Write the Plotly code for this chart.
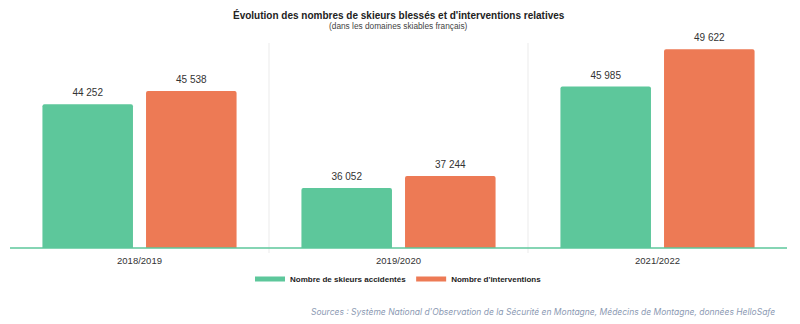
import plotly.graph_objects as go

seasons = ["2018/2019", "2019/2020", "2021/2022"]
skieurs = [44252, 36052, 45985]
interventions = [45538, 37244, 49622]
series_names = ["Nombre de skieurs accidentés", "Nombre d'interventions"]

GREEN = "#5dc79b"
ORANGE = "#ed7a55"

def fmt(v):
    return f"{v:,}".replace(",", " ")

PLOT_H = 205.5

fig = go.Figure()
series = [(series_names[0], skieurs, GREEN, "a"), (series_names[1], interventions, ORANGE, "b")]
for name, vals, col, grp in series:
    fig.add_trace(go.Bar(
        x=seasons, y=vals, name=name, showlegend=False, offsetgroup=grp,
        marker=dict(color=col, cornerradius=2, line=dict(width=0)),
        hoverinfo="skip",
    ))
for name, vals, col, grp in series:
    fig.add_trace(go.Scatter(
        x=seasons, y=vals, mode="markers+text", offsetgroup=grp, showlegend=False,
        text=[fmt(v) for v in vals], textposition="top center",
        marker=dict(size=7, color="rgba(0,0,0,0)"),
        textfont=dict(size=10, color="#333333", family="Liberation Sans, Arial"),
        cliponaxis=False, hoverinfo="skip",
    ))
# legend entries (wide swatches)
for name, vals, col, grp in series:
    fig.add_trace(go.Scatter(
        x=[None], y=[None], mode="lines", name="<b>" + name + "</b>",
        line=dict(color=col, width=7),
    ))

fig.update_layout(
    width=800, height=324,
    margin=dict(l=10, r=13, t=43, b=75.5),
    paper_bgcolor="white", plot_bgcolor="white",
    barmode="group", bargap=0.2, bargroupgap=0.126,
    scattermode="group", scattergap=0.2,
    font=dict(family="Liberation Sans, Arial", color="#333333"),
    showlegend=True,
    legend=dict(orientation="h", x=0.5, xanchor="center", y=(248.5 - 279.5) / PLOT_H, yanchor="middle",
                font=dict(size=8, color="#222222"), itemwidth=30, traceorder="normal",
                tracegroupgap=0, itemsizing="constant", bgcolor="rgba(0,0,0,0)"),
    xaxis=dict(showgrid=False, ticks="", showline=False, ticklabelstandoff=5,
               tickfont=dict(size=9.5, color="#333333"), zeroline=False),
    yaxis=dict(range=[30200, 50236], visible=False, showgrid=False, zeroline=False),
)

# category separators (light grey), extending slightly below the baseline
for i in range(len(seasons) - 1):
    fig.add_shape(type="line", xref="x", yref="paper", x0=i + 0.5, x1=i + 0.5,
                  y0=-5 / PLOT_H, y1=1, line=dict(color="#ebebeb", width=1), layer="below")

# baseline
fig.add_shape(type="line", xref="paper", yref="paper", x0=0, x1=1, y0=0, y1=0,
              line=dict(color=GREEN, width=1.5))

fig.add_annotation(text="<b>Évolution des nombres de skieurs blessés et d'interventions relatives</b>",
                   xref="paper", yref="paper", x=0.5, y=(248.5 - 15) / PLOT_H, xanchor="center", yanchor="middle",
                   showarrow=False, font=dict(size=10, color="#222222"))
fig.add_annotation(text="(dans les domaines skiables français)",
                   xref="paper", yref="paper", x=0.5, y=(248.5 - 25.5) / PLOT_H, xanchor="center", yanchor="middle",
                   showarrow=False, font=dict(size=8.3, color="#444444"))
fig.add_annotation(text="<i>Sources : Système National d'Observation de la Sécurité en Montagne, Médecins de Montagne, données HelloSafe</i>",
                   xref="paper", yref="paper", x=(777 - 10) / 777, y=(248.5 - 313) / PLOT_H, xanchor="right", yanchor="middle",
                   showarrow=False, font=dict(size=8.5, color="#8c9ab3", family="Inter"))

fig.write_html("out.html")
